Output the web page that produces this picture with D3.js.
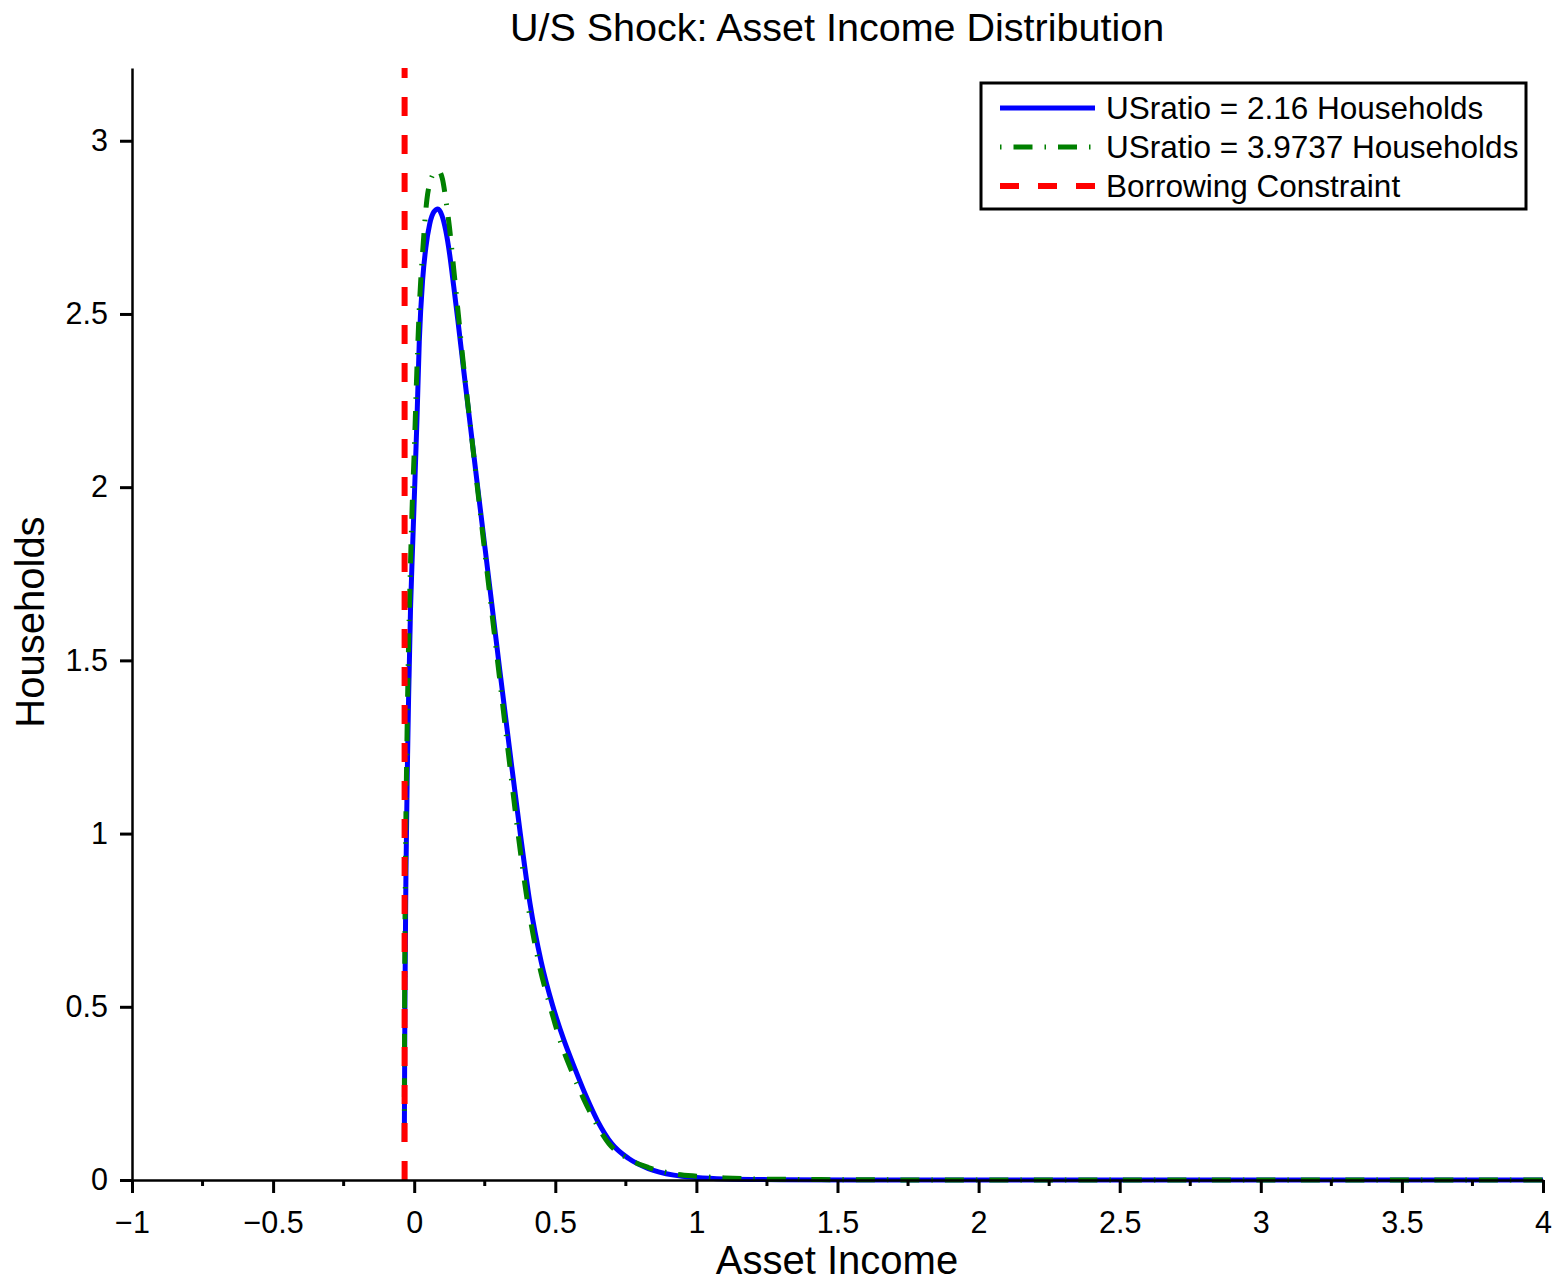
<!DOCTYPE html>
<html>
<head>
<meta charset="utf-8">
<script src="https://cdn.jsdelivr.net/npm/d3@7"></script>
<style>
  html, body { margin: 0; padding: 0; background: #fff; }
  svg { display: block; font-family: "Liberation Sans", Arial, Helvetica, sans-serif; }
</style>
</head>
<body>
<svg id="chart" width="1558" height="1283"></svg>
<script>
// Asset income grid points and household densities for the two U/S ratios
const incomeLow = [-0.035, -0.033, -0.029, -0.024, -0.020, -0.013, -0.006, 0.0, 0.010, 0.018, 0.030, 0.041, 0.055, 0.070, 0.084,
  0.098, 0.112, 0.126, 0.140, 0.155, 0.175, 0.200, 0.230, 0.265, 0.302, 0.340, 0.376,
  0.410, 0.450, 0.490, 0.530, 0.570, 0.610, 0.650, 0.700, 0.760, 0.830, 0.920, 1.0, 1.1, 1.3, 1.6, 2.0, 3.0, 4.0];
const householdsLow = [0.11, 0.5, 0.9, 1.2, 1.385, 1.65, 1.82, 1.96, 2.2, 2.42, 2.6, 2.69, 2.76, 2.795, 2.803,
  2.785, 2.74, 2.67, 2.58, 2.48, 2.34, 2.17, 1.965, 1.73, 1.48, 1.23, 1.0,
  0.80, 0.63, 0.505, 0.405, 0.32, 0.24, 0.17, 0.105, 0.062, 0.033, 0.014, 0.007, 0.003, 0.001, 0.0003, 0.0, 0.0, 0.0];

const incomeHigh = [-0.035, -0.034, -0.031, -0.026, -0.021, -0.014, -0.007, 0.0, 0.010, 0.020, 0.030, 0.045, 0.060, 0.075, 0.086,
  0.100, 0.112, 0.125, 0.140, 0.155, 0.175, 0.200, 0.228, 0.262, 0.298, 0.334, 0.368,
  0.402, 0.442, 0.482, 0.520, 0.560, 0.600, 0.640, 0.690, 0.750, 0.830, 0.920, 1.0, 1.1, 1.3, 1.6, 2.0, 3.0, 4.0];
const householdsHigh = [0.11, 0.5, 0.9, 1.25, 1.5, 1.75, 1.95, 2.1, 2.35, 2.55, 2.68, 2.83, 2.89, 2.91, 2.913,
  2.89, 2.83, 2.75, 2.63, 2.51, 2.35, 2.17, 1.97, 1.73, 1.48, 1.23, 1.0,
  0.80, 0.625, 0.50, 0.395, 0.31, 0.235, 0.17, 0.105, 0.065, 0.036, 0.018, 0.011, 0.006, 0.002, 0.0006, 0.0, 0.0, 0.0];

// Borrowing constraint on asset income
const borrowingConstraint = -0.034;

const seriesLabels = ["USratio = 2.16 Households", "USratio = 3.9737 Households", "Borrowing Constraint"];
const titleText = "U/S Shock: Asset Income Distribution";
const xLabel = "Asset Income";
const yLabel = "Households";

const xDomain = [-1, 4];
const yDomain = [0, 3.21];
const xMajorTicks = [-1, -0.5, 0, 0.5, 1, 1.5, 2, 2.5, 3, 3.5, 4];
const xMinorTicks = [-0.75, -0.25, 0.25, 0.75, 1.25, 1.75, 2.25, 2.75, 3.25, 3.75];
const yMajorTicks = [0, 0.5, 1, 1.5, 2, 2.5, 3];

const svg = d3.select("#chart");
const plot = { left: 132, right: 1543, top: 68, bottom: 1180 };

const x = d3.scaleLinear().domain(xDomain).range([plot.left, plot.right]);
const y = d3.scaleLinear().domain(yDomain).range([plot.bottom, plot.top]);

const fmt = v => String(v).replace("-", "\u2212");

// Title
svg.append("text")
  .attr("x", 837).attr("y", 41)
  .attr("text-anchor", "middle")
  .attr("font-size", 39.5)
  .text(titleText);

// Axis titles
svg.append("text")
  .attr("x", 837).attr("y", 1274)
  .attr("text-anchor", "middle")
  .attr("font-size", 40)
  .text(xLabel);

svg.append("text")
  .attr("transform", "translate(44,622) rotate(-90)")
  .attr("text-anchor", "middle")
  .attr("font-size", 40)
  .text(yLabel);

// Series curves
const lineGen = d3.line()
  .x(d => x(d[0]))
  .y(d => y(d[1]))
  .curve(d3.curveMonotoneX);

const lowData = incomeLow.map((v, i) => [v, householdsLow[i]]);
const highData = incomeHigh.map((v, i) => [v, householdsHigh[i]]);

svg.append("path")
  .datum(lowData)
  .attr("d", lineGen)
  .attr("fill", "none")
  .attr("stroke", "#0000ff")
  .attr("stroke-width", 5);

svg.append("path")
  .datum(highData)
  .attr("d", lineGen)
  .attr("fill", "none")
  .attr("stroke", "#008000")
  .attr("stroke-width", 5)
  .attr("stroke-dasharray", "19,12,1.5,12");

// Borrowing constraint, dashed from the axis upward
svg.append("line")
  .attr("x1", x(borrowingConstraint)).attr("x2", x(borrowingConstraint))
  .attr("y1", y(0)).attr("y2", y(yDomain[1]))
  .attr("stroke", "#ff0000")
  .attr("stroke-width", 6)
  .attr("stroke-dasharray", "19,19");

// X axis
const xAxis = svg.append("g")
  .attr("transform", `translate(0,${plot.bottom})`)
  .call(d3.axisBottom(x).tickValues(xMajorTicks).tickFormat(fmt)
    .tickSize(13).tickSizeOuter(0).tickPadding(18));
xAxis.select(".domain").attr("stroke", "#000").attr("stroke-width", 2.5);
xAxis.selectAll(".tick line").attr("stroke", "#000").attr("stroke-width", 3);
xAxis.selectAll(".tick text").attr("font-size", 30.5).attr("fill", "#000")
  .attr("font-family", "'Liberation Sans', Arial, sans-serif");

xAxis.selectAll(".minor")
  .data(xMinorTicks)
  .enter().append("line")
  .attr("class", "minor")
  .attr("x1", d => x(d)).attr("x2", d => x(d))
  .attr("y1", 0).attr("y2", 6)
  .attr("stroke", "#000").attr("stroke-width", 3);

// Y axis
const yAxis = svg.append("g")
  .attr("transform", `translate(${plot.left},0)`)
  .call(d3.axisLeft(y).tickValues(yMajorTicks).tickFormat(fmt)
    .tickSize(12).tickSizeOuter(0).tickPadding(12));
yAxis.select(".domain").attr("stroke", "#000").attr("stroke-width", 2.5);
yAxis.selectAll(".tick line").attr("stroke", "#000").attr("stroke-width", 3);
yAxis.selectAll(".tick text").attr("font-size", 30.5).attr("fill", "#000")
  .attr("font-family", "'Liberation Sans', Arial, sans-serif");

// Legend
const legend = svg.append("g");
legend.append("rect")
  .attr("x", 981).attr("y", 83)
  .attr("width", 545).attr("height", 126)
  .attr("fill", "#fff")
  .attr("stroke", "#000")
  .attr("stroke-width", 3);

const legendStyles = [
  { color: "#0000ff", width: 5, dash: null, offset: 0 },
  { color: "#008000", width: 5, dash: "19,12,1.5,12", offset: 31 },
  { color: "#ff0000", width: 6, dash: "19,19", offset: 0 }
];

seriesLabels.forEach((label, i) => {
  const cy = 108 + i * 39;
  const s = legendStyles[i];
  const ln = legend.append("line")
    .attr("x1", 1000).attr("x2", 1095)
    .attr("y1", cy).attr("y2", cy)
    .attr("stroke", s.color)
    .attr("stroke-width", s.width);
  if (s.dash) ln.attr("stroke-dasharray", s.dash).attr("stroke-dashoffset", s.offset);
  legend.append("text")
    .attr("x", 1106).attr("y", cy + 11)
    .attr("font-size", 31.5)
    .text(label);
});
</script>
</body>
</html>
